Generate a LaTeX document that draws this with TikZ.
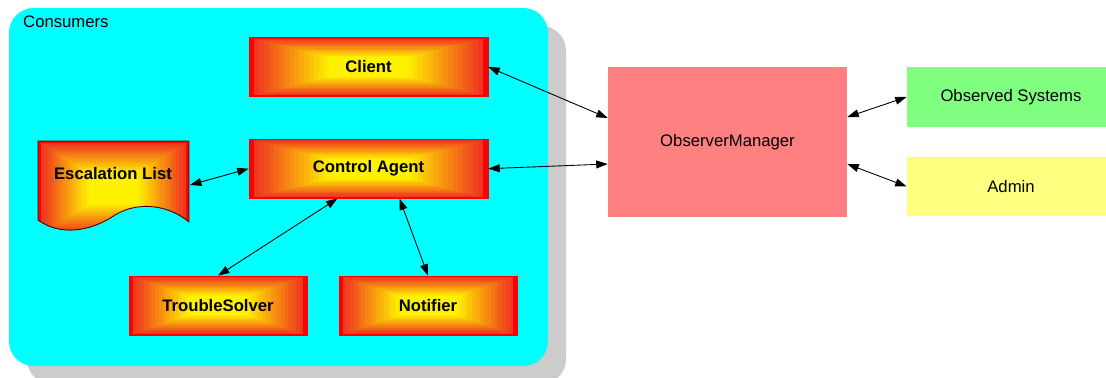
\documentclass[tikz,border=0pt]{standalone}
\usepackage{fontspec}
\setmainfont{Liberation Sans}
\usetikzlibrary{arrows.meta,positioning,calc}
\definecolor{cons}{HTML}{00FFFF}
\definecolor{shadowgray}{HTML}{CCCCCC}
\definecolor{mgr}{HTML}{FF8080}
\definecolor{obsv}{HTML}{80FF80}
\definecolor{admn}{HTML}{FFFF80}

\begin{document}
\begin{tikzpicture}[x=0.02cm,y=-0.02cm,
    gr/.style={path picture={
      \foreach \k in {0,...,20}{
        \pgfmathsetmacro\fr{\k*0.021}
        \pgfmathtruncatemacro\mix{min(100,\k*6+6*(\k>0))}
        \fill[yellow!\mix!red]
          ($(path picture bounding box.north west)!\fr!(path picture bounding box.south east)$) rectangle
          ($(path picture bounding box.south east)!\fr!(path picture bounding box.north west)$);
      }}},
    f/.style={font=\fontsize{9.5}{11}\selectfont},
    g/.style={gr,draw=red,f,font=\bfseries\fontsize{9.5}{11}\selectfont,inner sep=0pt,
      minimum width=4.78cm,minimum height=1.18cm},
    s/.style={g,minimum width=3.56cm},
    p/.style={f,inner sep=0pt,minimum width=4.16cm,minimum height=1.2cm},
    a/.style={{Triangle[length=6.5pt,width=4.5pt]}-{Triangle[length=6.5pt,width=4.5pt]},line width=0.5pt}]
  \useasboundingbox (0,0) rectangle (1106,378);
  \clip (0,0) rectangle (1106,378);

  % consumers area
  \fill[shadowgray,rounded corners=14pt] (27,26) rectangle (566,384);
  \fill[cons,rounded corners=14pt] (9,8) rectangle (548,366);
  \node[f,anchor=west] (cn) at (17,22) {Consumers};

  \node[g] (cl) at (368.5,67) {Client};
  \node[g,below=0.84cm of cl] (ca) {Control Agent};
  \node[s] (ts) at (218,305.5) {TroubleSolver};
  \node[s] (nt) at (428,305.5) {Notifier};

  % escalation list (document shape)
  \draw[gr,draw=black!70!red,line width=0.5pt] (38,141) -- (189,141) -- (189,222)
    .. controls (170,206) and (140,200) .. (115,215)
    .. controls (90,232) and (60,236) .. (38,220) -- cycle;
  \node[f,font=\bfseries\fontsize{9.5}{11}\selectfont] (esc) at (113,174) {Escalation List};
  \coordinate (escR) at (190,185);

  % manager side
  \node[p,fill=mgr,minimum width=4.78cm,minimum height=3cm] (om) at (727.5,142) {ObserverManager};
  \node[p,fill=obsv] (obs) at (1011,97) {Observed Systems};
  \node[p,fill=admn] (adm) at (1011,186.5) {Admin};

  \draw[a] (cl.east) -- ($(om.west)+(0,-24)$);
  \draw[a] (ca.east) -- ($(om.west)+(0,22)$);
  \draw[a] (escR) -- (ca.west);
  \draw[a] ($(ca.south)+(-31,0)$) -- (ts.north);
  \draw[a] ($(ca.south)+(31,0)$) -- (nt.north);
  \draw[a] ($(om.east)+(0,-25)$) -- (obs.west);
  \draw[a] ($(om.east)+(0,22)$) -- (adm.west);
\end{tikzpicture}
\end{document}
